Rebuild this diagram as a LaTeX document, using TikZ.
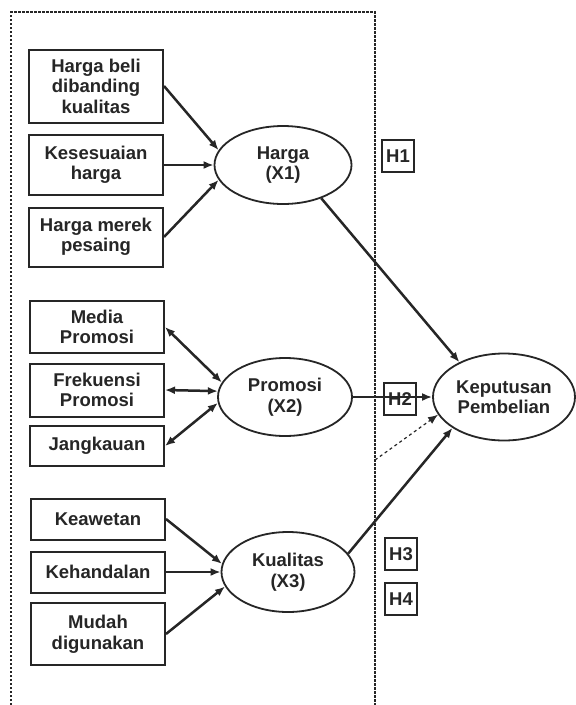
\documentclass[tikz,border=0pt]{standalone}
\usepackage{fontspec}
\setmainfont{Liberation Sans}
\usetikzlibrary{shapes.geometric,arrows.meta}
\colorlet{ink}{black!85}
\begin{document}
\begin{tikzpicture}[x=1pt,y=-1pt,font=\fontsize{18.5}{20.5}\selectfont\bfseries]
\tikzstyle{ind_style} = [rectangle, draw=ink, line width=2pt, text=ink, minimum width=134pt, inner sep=2pt, align=center]
\tikzstyle{var_style} = [ellipse, draw=ink, line width=1.8pt, text=ink, inner sep=0pt, align=center]
\tikzstyle{hyp_style} = [rectangle, draw=ink, line width=1.8pt, text=ink, minimum size=32pt, inner sep=0pt]
\tikzstyle{edge_style} = [-{Latex[length=10pt,width=8pt]}, ink, line width=2.5pt]
\tikzstyle{both_style} = [{Latex[length=10pt,width=8pt]}-{Latex[length=10pt,width=8pt]}, ink, line width=2.5pt]
    \useasboundingbox (0,0) rectangle (576,705);
    \fill[white] (0,0) rectangle (576,705);

    % group frame
    \draw[ink, line width=1.8pt, dash pattern=on 2.5pt off 1.5pt] (11,705) |- (375,12) -- (375,705);

    \node[ind_style, minimum height=73pt] (b1) at (96,86) {Harga beli\\dibanding\\kualitas};
    \node[ind_style, minimum height=60pt] (b2) at (96,165) {Kesesuaian\\harga};
    \node[ind_style, minimum height=59pt] (b3) at (96,237) {Harga merek\\pesaing};

    \node[ind_style, minimum height=52pt] (b4) at (97,327) {Media\\Promosi};
    \node[ind_style, minimum height=53pt] (b5) at (97,390) {Frekuensi\\Promosi};
    \node[ind_style, minimum height=40pt] (b6) at (97,446) {Jangkauan};

    \node[ind_style, minimum height=41pt] (b7) at (98,519) {Keawetan};
    \node[ind_style, minimum height=41pt] (b8) at (98,572) {Kehandalan};
    \node[ind_style, minimum height=62pt] (b9) at (98,634) {Mudah\\digunakan};

    \node[var_style, minimum width=137pt, minimum height=78pt] (harga) at (283,165) {Harga\\(X1)};
    \node[var_style, minimum width=134pt, minimum height=78pt] (promosi) at (285,397) {Promosi\\(X2)};
    \node[var_style, minimum width=133pt, minimum height=80pt] (kualitas) at (288,572) {Kualitas\\(X3)};
    \node[var_style, minimum width=142pt, minimum height=87pt] (keputusan) at (504,397) {Keputusan\\Pembelian};

    \node[hyp_style] (h1) at (398,156) {H1};
    \node[hyp_style] (h2) at (400,399) {H2};
    \node[hyp_style] (h3) at (401,554) {H3};
    \node[hyp_style] (h4) at (401,599) {H4};

    \draw[edge_style] (b1.east) -- (harga.167);
    \draw[edge_style] (b2.east) -- (harga.west);
    \draw[edge_style] (b3.east) -- (harga.193);

    \draw[both_style] (b4.east) -- (promosi.167);
    \draw[both_style] (b5.east) -- (promosi.175);
    \draw[both_style] (b6.east) -- (promosi.185);

    \draw[edge_style] (b7.east) -- (kualitas.173);
    \draw[edge_style] (b8.east) -- (kualitas.west);
    \draw[edge_style] (b9.east) -- (kualitas.193);

    \draw[edge_style] (harga.-41) -- (keputusan.142);
    \draw[edge_style] (promosi.east) -- (keputusan.west);
    \draw[edge_style] (kualitas.17) -- (keputusan.211);

    \coordinate (grp) at (375,460);
    \draw[edge_style, line width=1.2pt, dashed] (grp) -- (keputusan.195);
\end{tikzpicture}
\end{document}
